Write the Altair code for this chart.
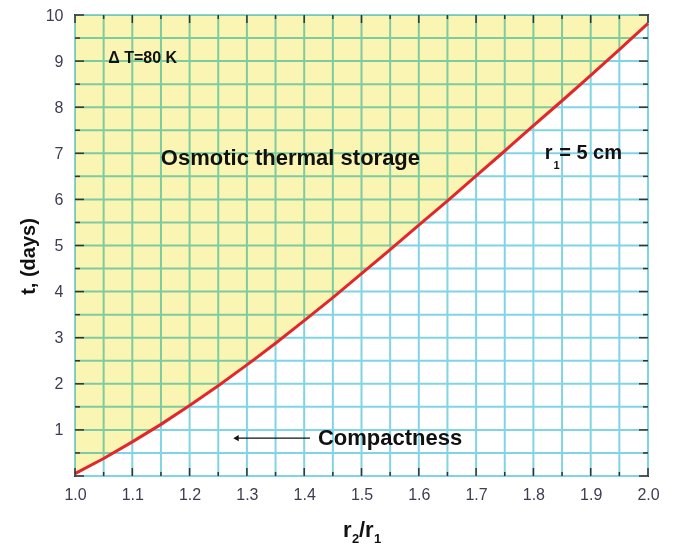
import altair as alt
import pandas as pd

# ---- data ----
r_vals = [1.00, 1.05, 1.10, 1.15, 1.20, 1.25, 1.30, 1.35, 1.40, 1.45, 1.50,
          1.55, 1.60, 1.65, 1.70, 1.75, 1.80, 1.85, 1.90, 1.95, 2.00]
t_vals = [0.05, 0.38, 0.74, 1.12, 1.53, 1.96, 2.41, 2.88, 3.37, 3.87, 4.39,
          4.91, 5.44, 5.97, 6.51, 7.05, 7.60, 8.14, 8.69, 9.25, 9.82]

x_minor_ticks = [1.05, 1.15, 1.25, 1.35, 1.45, 1.55, 1.65, 1.75, 1.85, 1.95]
x_major_ticks = [1.0, 1.1, 1.2, 1.3, 1.4, 1.5, 1.6, 1.7, 1.8, 1.9, 2.0]
y_minor_ticks = [0.5, 1.5, 2.5, 3.5, 4.5, 5.5, 6.5, 7.5, 8.5, 9.5]
y_major_ticks = [0, 1, 2, 3, 4, 5, 6, 7, 8, 9, 10]
x_grid = sorted(x_major_ticks + x_minor_ticks)
y_grid = sorted(y_major_ticks + y_minor_ticks)

W, H = 573, 461
FONT = "Liberation Sans"
TICK_COLOR = "#333333"
GRID_COLOR = "#80d4e4"
TEXT = "#111111"

curve = pd.DataFrame({"r": r_vals, "t": t_vals})

xscale = alt.Scale(domain=[1.0, 2.0], nice=False, zero=False)
yscale = alt.Scale(domain=[0, 10], nice=False, zero=False)

xaxis = alt.Axis(
    values=x_major_ticks, grid=False, ticks=False, tickSize=0, domain=False,
    format=".1f",
    labelFont=FONT, labelFontSize=16, labelColor="#3d3d52", labelPadding=10,
    labelFlush=False, labelOverlap=False, labelBound=False,
    title=None,
)
yaxis = alt.Axis(
    values=y_major_ticks, grid=False, ticks=False, tickSize=0, domain=False,
    labelExpr="datum.value >= 1 ? format(datum.value, 'd') : ''",
    labelFont=FONT, labelFontSize=16, labelColor="#3d3d52", labelPadding=12,
    labelFlush=False, labelOverlap=False, labelBound=False,
    title="t, (days)", titleFont=FONT, titleFontSize=20, titleFontWeight="bold",
    titleColor=TEXT, titleX=-47, titleY=241, titleBaseline="middle",
)


def X(field="r:Q"):
    return alt.X(field, scale=xscale, axis=xaxis)


def Y(field="t:Q"):
    return alt.Y(field, scale=yscale, axis=yaxis)


# grid lines
gx = alt.Chart(pd.DataFrame({"r": x_grid})).mark_rule(
    color=GRID_COLOR, strokeWidth=2).encode(x=X(), y=alt.value(0), y2=alt.value(H))
gy = alt.Chart(pd.DataFrame({"t": y_grid})).mark_rule(
    color=GRID_COLOR, strokeWidth=2).encode(y=Y(), x=alt.value(0), x2=alt.value(W))

base = alt.Chart(curve)

area = base.mark_area(color="#fbf5b3", blend="multiply").encode(
    x=X(), y=Y(), y2=alt.datum(10),
)

line = base.mark_line(color="#e3262a", strokeWidth=3).encode(x=X(), y=Y())


def xticks(vals, length):
    df = pd.DataFrame({"r": vals})
    bottom = alt.Chart(df).mark_rule(color=TICK_COLOR, strokeWidth=1.5).encode(
        x=X(), y=alt.value(H), y2=alt.value(H - length))
    top = alt.Chart(df).mark_rule(color=TICK_COLOR, strokeWidth=1.5).encode(
        x=X(), y=alt.value(0), y2=alt.value(length))
    return [bottom, top]


def yticks(vals, length):
    df = pd.DataFrame({"t": vals})
    left = alt.Chart(df).mark_rule(color=TICK_COLOR, strokeWidth=1.5).encode(
        y=Y(), x=alt.value(0), x2=alt.value(length))
    right = alt.Chart(df).mark_rule(color=TICK_COLOR, strokeWidth=1.5).encode(
        y=Y(), x=alt.value(W), x2=alt.value(W - length))
    return [left, right]


ticks = xticks(x_major_ticks, 8) + xticks(x_minor_ticks, 4) + \
    yticks(y_major_ticks, 9) + yticks(y_minor_ticks, 5)

# annotations
ann = alt.Chart(pd.DataFrame({"a": [0]}))


def label(text, x, y, size, align="left", baseline="middle"):
    return ann.mark_text(font=FONT, fontSize=size, fontWeight="bold", color=TEXT,
                         align=align, baseline=baseline).encode(
        x=alt.datum(x), y=alt.datum(y), text=alt.value(text))


def plabel(text, px, py, size):
    return ann.mark_text(font=FONT, fontSize=size, fontWeight="bold", color=TEXT,
                         align="left", baseline="alphabetic").encode(
        x=alt.value(px), y=alt.value(py), text=alt.value(text))


txt_main = label("Osmotic thermal storage", 1.376, 6.9, 22, align="center")
txt_dt = label("Δ T=80 K", 1.058, 9.07, 16)
txt_r = label("r", 1.820, 7.0, 20)
txt_r_sub = label("1", 1.835, 6.72, 11)
txt_r_rest = label("= 5 cm", 1.845, 7.0, 20)
txt_comp = label("Compactness", 1.424, 0.82, 22)
arrow_line = ann.mark_rule(color=TEXT, strokeWidth=1.2).encode(
    x=alt.datum(1.285), x2=alt.datum(1.410), y=alt.datum(0.82))
arrow_head = ann.mark_point(shape="triangle-left", filled=True, color=TEXT,
                            size=40, opacity=1).encode(
    x=alt.datum(1.281), y=alt.datum(0.82))

# x axis title r2/r1 with subscripts
xt1 = plabel("r", 268, 522, 22)
xt2 = plabel("2", 277, 528, 13)
xt3 = plabel("/r", 284, 522, 22)
xt4 = plabel("1", 299, 528, 13)

chart = alt.layer(
    gx, gy, area, line, *ticks, txt_main, txt_dt, txt_r, txt_r_sub, txt_r_rest,
    txt_comp, arrow_line, arrow_head, xt1, xt2, xt3, xt4
).properties(
    width=W, height=H,
    autosize=alt.AutoSizeParams(type="none"),
    padding={"left": 67, "top": 7, "right": 17, "bottom": 72},
    background="white",
).configure_view(stroke="#333333", strokeWidth=2)

chart.save("out.html", embed_options={"renderer": "svg", "actions": False})
